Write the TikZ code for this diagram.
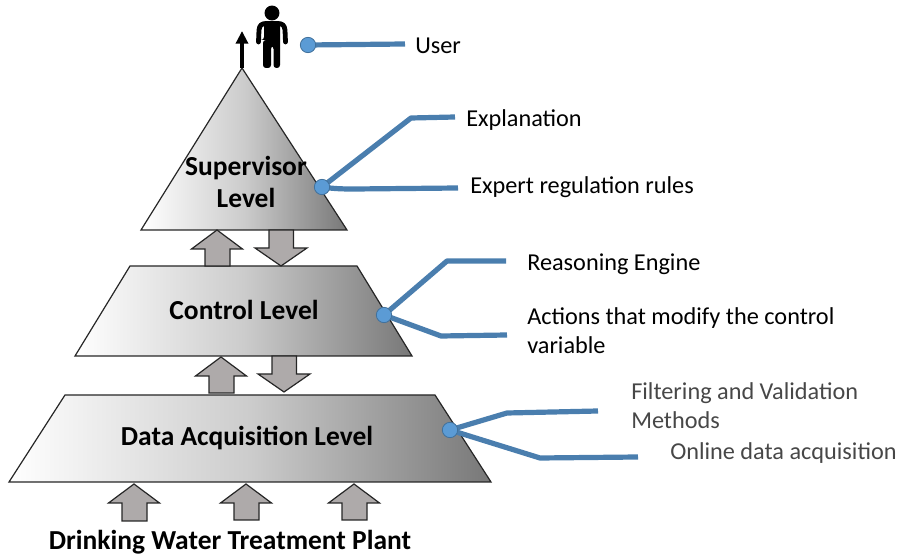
\documentclass[tikz,border=0pt]{standalone}
\usepackage{fontspec}
\setmainfont{Carlito}
\usetikzlibrary{arrows.meta}
\definecolor{dotblue}{HTML}{5B9BD5}
\definecolor{dotedge}{HTML}{41719C}
\definecolor{linkblue}{HTML}{4A7EAE}
\definecolor{arrowgray}{HTML}{AEAAAA}
\tikzset{
  level/.style={draw=black!85, line width=0.9pt, line join=miter, left color=white, right color=black!53, middle color=black!20},
  levellabel/.style={inner sep=0pt, align=center, font=\fontsize{20.6}{24}\selectfont\bfseries},
  note/.style={inner sep=0pt, anchor=base west, align=left, font=\fontsize{18.2}{22.3}\selectfont},
  graynote/.style={note, text=black!72},
  dot/.style={circle, draw=dotedge, line width=0.6pt, fill=dotblue, minimum size=11.5pt, inner sep=0pt},
  link/.style={draw=linkblue, line width=3.9pt, line join=round},
  pics/blockup/.style={code={
    \draw[draw=black!85, fill=arrowgray, line width=0.9pt]
      (0,0) -- (25.5,19) -- (13,19) -- (13,#1) -- (-12,#1) -- (-12,19) -- (-25.5,19) -- cycle;
  }},
  pics/blockdown/.style={code={
    \draw[draw=black!85, fill=arrowgray, line width=0.9pt]
      (0,0) -- (26,-18) -- (12.5,-18) -- (12.5,-#1) -- (-12,-#1) -- (-12,-18) -- (-26,-18) -- cycle;
  }}
}
\begin{document}
\begin{tikzpicture}[x=0.75pt,y=-0.75pt]
  \useasboundingbox (0,0) rectangle (901,555);

  % levels
  \path[level] (242,68) -- (347,230) -- (141,230) -- cycle;
  \path[level] (130,266) -- (357,266) -- (412,356) -- (75,356) -- cycle;
  \path[level] (65,395) -- (435,395) -- (491,482) -- (9,482) -- cycle;

  \node[levellabel] (supervisor) at (246,182) {Supervisor\\Level};
  \node[levellabel] (control) at (244,310) {Control Level};
  \node[levellabel] (data) at (247,438) {Data Acquisition Level};
  \node[levellabel, anchor=base] (plant) at (230,550) {Drinking Water Treatment Plant};

  % block arrows
  \pic at (217,230) {blockup=36};
  \pic at (281,266) {blockdown=36};
  \pic at (221,357) {blockup=36};
  \pic at (284,392) {blockdown=36};
  \pic at (134,484) {blockup=37};
  \pic at (246,484) {blockup=36};
  \pic at (354,484) {blockup=36};

  % user
  \coordinate (apex) at (242,68);
  \coordinate (top) at (242,31);
  \draw[line width=2.4pt, -{Triangle[length=9.5pt,width=9pt]}] (apex) -- (top);
  \fill (272,13) circle (5.6pt);
  \fill[rounded corners=2.2pt] (263,68) -- (263,40) -- (264,40) -- (264,21.5) -- (280,21.5) -- (280,40) -- (280,68) -- (273.5,68) -- (273.5,46) -- (271,46) -- (271,68) -- cycle;
  \draw[line width=3.6pt, line cap=round, line join=round] (258.5,42) -- (259,30) .. controls (259.5,25) and (262,23.5) .. (266,23.5) -- (278,23.5) .. controls (282,23.5) and (284.5,25) .. (285,30) -- (285.5,42);

  % links
  \coordinate (user) at (405,44);
  \coordinate (expl) at (455,117);
  \coordinate (rules) at (458,188);
  \coordinate (engine) at (506,261);
  \coordinate (actions) at (507,335);
  \coordinate (filter) at (598,411);
  \coordinate (online) at (638,457);
  \coordinate (d1) at (308,45);
  \coordinate (d2) at (322,187);
  \coordinate (d3) at (384,315);
  \coordinate (d4) at (450,430);

  \draw[link] (d1) -- (user);
  \draw[link] (d2) -- (411,118) -- (expl);
  \draw[link] (d2) .. controls (335,189) and (345,189) .. (355,189) -- (rules);
  \draw[link] (d3) -- (447,261) -- (engine);
  \draw[link] (d3) -- (441,336) -- (actions);
  \draw[link] (d4) -- (507,413) -- (filter);
  \draw[link] (d4) -- (540,458) -- (online);

  \node[dot] (dotuser) at (d1) {};
  \node[dot] (dotsupervisor) at (d2) {};
  \node[dot] (dotcontrol) at (d3) {};
  \node[dot] (dotdata) at (d4) {};

  % labels
  \node[note] (userlabel) at (415,54) {User};
  \node[note] (explanation) at (466,127) {Explanation};
  \node[note] (expert) at (470,194) {Expert regulation rules};
  \node[note] (reasoning) at (527,271) {Reasoning Engine};
  \node[note] (modify) at (527,354) {Actions that modify the control\\variable};
  \node[graynote] (filtering) at (631,429) {Filtering and Validation\\Methods};
  \node[graynote] (acquisition) at (670,460) {Online data acquisition};
\end{tikzpicture}
\end{document}
